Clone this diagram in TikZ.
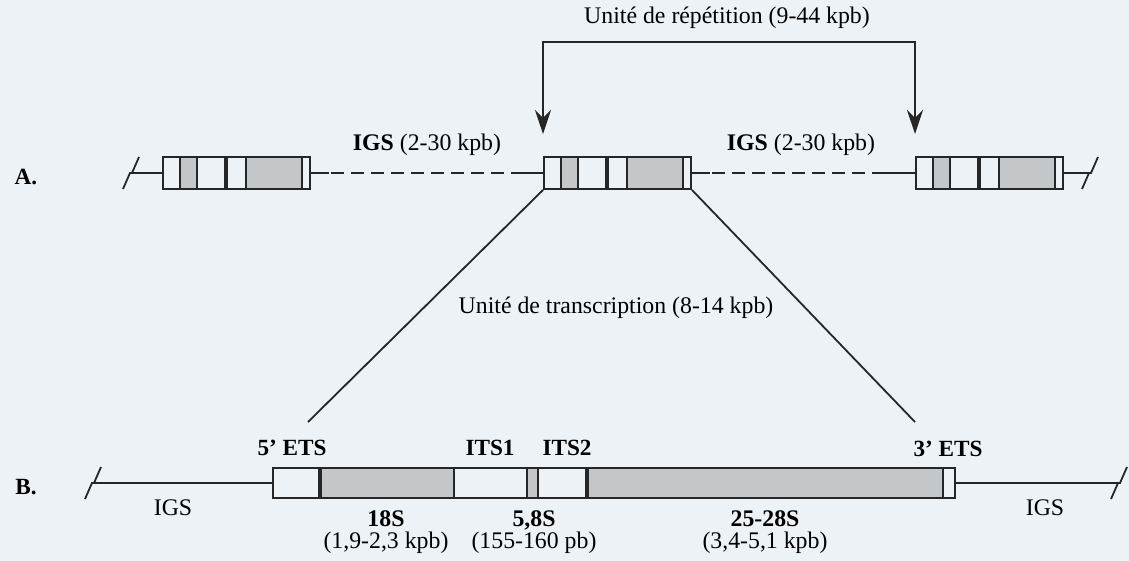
\documentclass[tikz,border=0pt]{standalone}
\usepackage{fontspec}
\setmainfont{Liberation Serif}
\usepackage{tikz}
\usetikzlibrary{arrows.meta}
\definecolor{paper}{RGB}{237,242,246}
\definecolor{ink}{RGB}{38,38,38}
\definecolor{stipple}{RGB}{196,199,202}

\begin{document}
\begin{tikzpicture}[
  x=0.5pt, y=-0.5pt,
  font=\fontsize{11.9}{13.5}\selectfont,
  dna/.style={draw=ink, line width=1pt},
  igsdash/.style={dna, dash pattern=on 6.5pt off 3.5pt},
  unit/.style={draw=ink, line width=1pt, minimum width=#1, minimum height=16pt, inner sep=0pt},
  rna/.style={fill=stipple},
  sep/.style={draw=ink, line width=0.8pt},
  bigsep/.style={draw=ink, line width=1.8pt},
  lbl/.style={font=\fontsize{11.6}{13}\selectfont\bfseries, inner sep=1pt},
  gene/.style={align=center, inner sep=1pt, font=\fontsize{11.9}{11}\selectfont},
  pointer/.style={draw=ink, line width=1pt,
    {Stealth[length=12pt,width=8pt,inset=4pt]}-{Stealth[length=12pt,width=8pt,inset=4pt]}},
  zoomline/.style={draw=ink, line width=0.9pt},
  brk/.style={draw=ink, line width=0.9pt}
]
  % Page
  \fill[paper] (0,0) rectangle (1129,561);

  % Row A: repeat units
  \foreach \n/\x in {1/162, 2/543, 3/915} {
    \begin{scope}[shift={(\x,173)}]
      \fill[rna] (18,-16) rectangle (35,16);
      \fill[rna] (84,-16) rectangle (140,16);
      \foreach \s in {18,35,84,140} \draw[sep] (\s,-16) -- (\s,16);
      \draw[bigsep] (64,-16) -- (64,16);
    \end{scope}
    \node[unit=73.5pt, anchor=west] (u\n) at (\x,173) {};
  }

  \coordinate (kA1) at (131,173);
  \coordinate (kA2) at (1090,173);
  \draw[dna] (kA1) -- (u1.west);
  \draw[igsdash] (u1.east) -- (u2.west);
  \draw[dna] (u1.east) -- ++(18,0);
  \draw[dna] (u2.west) -- ++(-32,0);
  \draw[igsdash] (u2.east) -- (u3.west);
  \draw[dna] (u2.east) -- ++(18,0);
  \draw[dna] (u3.west) -- ++(-32,0);
  \draw[dna] (u3.east) -- (kA2);
  \draw[brk] (kA1) ++(-8,16) -- ++(7,-16) -- ++(2,0) -- ++(7,-16);
  \draw[brk] (kA2) ++(-8,16) -- ++(7,-16) -- ++(2,0) -- ++(7,-16);

  \node[lbl] (labA) at (26,177) {A.};
  \node (igs1) at (427,145) {\textbf{IGS} (2-30 kpb)};
  \node (igs2) at (801,145) {\textbf{IGS} (2-30 kpb)};
  \node (rep) at (727,18) {Unité de répétition (9-44 kpb)};
  \draw[pointer] ([yshift=11pt]u2.north west) -- ++(0,-92) -| ([yshift=11pt]u3.north west);

  % Zoom on one transcription unit
  \node (tu) at (616,308) {Unité de transcription (8-14 kpb)};
  \coordinate (t5) at (308,422);
  \coordinate (t3) at (915,422);
  \draw[zoomline] (u2.south west) -- (t5);
  \draw[zoomline] (u2.south east) -- (t3);

  % Row B: transcription unit
  \fill[rna] (320,468) rectangle (454,498);
  \fill[rna] (527,468) rectangle (538,498);
  \fill[rna] (587,468) rectangle (943,498);
  \foreach \s in {454,527,538,943} \draw[sep] (\s,468) -- (\s,498);
  \foreach \s in {320,587} \draw[bigsep] (\s,468) -- (\s,498);
  \node[unit=341pt, minimum height=15pt, anchor=west] (rdna) at (272,483) {};

  \coordinate (kB1) at (93,483);
  \coordinate (kB2) at (1119,483);
  \draw[dna] (kB1) -- (rdna.west);
  \draw[dna] (rdna.east) -- (kB2);
  \draw[brk] (kB1) ++(-8,16) -- ++(7,-16) -- ++(2,0) -- ++(7,-16);
  \draw[brk] (kB2) ++(-8,16) -- ++(7,-16) -- ++(2,0) -- ++(7,-16);

  \node[lbl] (labB) at (26,487) {B.};
  \node[lbl] (ets5) at (292,448) {5’ ETS};
  \node[lbl] (its1) at (490,448) {ITS1};
  \node[lbl] (its2) at (567,448) {ITS2};
  \node[lbl] (ets3) at (948,449) {3’ ETS};
  \node (igsL) at (173,508) {IGS};
  \node (igsR) at (1045,508) {IGS};
  \node[gene] (s18) at (386,532) {\textbf{18S}\\(1,9-2,3 kpb)};
  \node[gene] (s58) at (534,532) {\textbf{5,8S}\\(155-160 pb)};
  \node[gene] (s28) at (765,532) {\textbf{25-28S}\\(3,4-5,1 kpb)};
\end{tikzpicture}
\end{document}
